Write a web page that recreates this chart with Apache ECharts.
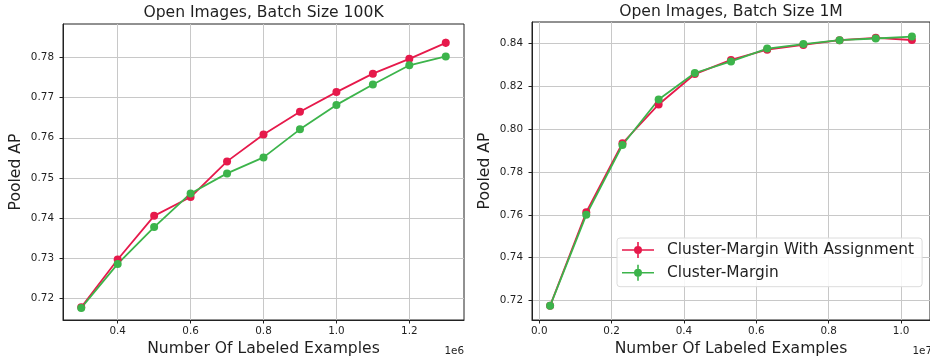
<!DOCTYPE html>
<html><head><meta charset="utf-8">
<script src="https://cdn.jsdelivr.net/npm/echarts@6/dist/echarts.min.js"></script>
<style>html,body{margin:0;padding:0;background:#fff}#c{width:930px;height:362px}</style>
</head><body><div id="c"></div>
<script>
// ---- data ----
const seriesNames = ['Cluster-Margin With Assignment', 'Cluster-Margin'];
const titles = ['Open Images, Batch Size 100K', 'Open Images, Batch Size 1M'];
const xName = 'Number Of Labeled Examples';
const yName = 'Pooled AP';
const offsetLabels = ['1e6', '1e7'];

const labeled100K = [300000, 400000, 500000, 600000, 700000, 800000, 900000, 1000000, 1100000, 1200000, 1300000];
const assign100K = [0.7177, 0.7296, 0.7405, 0.7452, 0.7541, 0.7608, 0.7665, 0.7714, 0.7760, 0.7797, 0.7837];
const assign100KErr = [0.0002, 0.0003, 0.0003, 0.0003, 0.0003, 0.0003, 0.0003, 0.0005, 0.0003, 0.0003, 0.0010];
const margin100K = [0.7175, 0.7285, 0.7377, 0.7461, 0.7511, 0.7551, 0.7621, 0.7682, 0.7733, 0.7781, 0.7803];
const margin100KErr = [0.0002, 0.0003, 0.0003, 0.0007, 0.0003, 0.0004, 0.0003, 0.0003, 0.0003, 0.0003, 0.0003];

const labeled1M = [300000, 1300000, 2300000, 3300000, 4300000, 5300000, 6300000, 7300000, 8300000, 9300000, 10300000];
const assign1M = [0.7175, 0.7612, 0.7934, 0.8115, 0.8257, 0.8323, 0.8371, 0.8393, 0.8415, 0.8426, 0.8416];
const assign1MErr = [0.0005, 0.0006, 0.0006, 0.0006, 0.0005, 0.0005, 0.0005, 0.0005, 0.0005, 0.0005, 0.0005];
const margin1M = [0.7175, 0.7600, 0.7926, 0.8138, 0.8262, 0.8316, 0.8376, 0.8397, 0.8415, 0.8423, 0.8432];
const margin1MErr = [0.0005, 0.0006, 0.0006, 0.0006, 0.0005, 0.0005, 0.0005, 0.0005, 0.0005, 0.0005, 0.0005];

const xTicks100K = [400000, 600000, 800000, 1000000, 1200000];
const yTicks100K = [0.72, 0.73, 0.74, 0.75, 0.76, 0.77, 0.78];
const xTicks1M = [0, 2000000, 4000000, 6000000, 8000000, 10000000];
const yTicks1M = [0.72, 0.74, 0.76, 0.78, 0.80, 0.82, 0.84];

// ---- style ----
const colors = ['#e6194b', '#3cb44b'];
const FONT = '"DejaVu Sans", sans-serif';
const TXT = '#1f1f1f';
const grids = [
  {left: 63, top: 24, width: 401, height: 299},
  {left: 532, top: 22, width: 400, height: 300}
];

function xAxisCfg(gi, min, max, ticks, div) {
  return {
    type: 'value', gridIndex: gi, min: min, max: max,
    name: xName, nameLocation: 'middle', nameGap: 21,
    nameTextStyle: {fontFamily: FONT, fontSize: 15.6, color: TXT},
    axisLine: {show: true, onZero: false, lineStyle: {color: '#222', width: 1}},
    axisTick: {show: true, inside: false, length: 3.5, customValues: ticks, lineStyle: {color: '#222', width: 1}},
    axisLabel: {customValues: ticks, margin: 6, fontFamily: FONT, fontSize: 10.4, color: TXT,
      formatter: v => (v / div).toFixed(1)},
    splitLine: {show: true, lineStyle: {color: '#c8c8c8', width: 1}}
  };
}
function yAxisCfg(gi, min, max, ticks) {
  return {
    type: 'value', gridIndex: gi, min: min, max: max,
    name: yName, nameLocation: 'middle', nameGap: 39, nameRotate: 90,
    nameTextStyle: {fontFamily: FONT, fontSize: 15.6, color: TXT},
    axisLine: {show: true, onZero: false, lineStyle: {color: '#222', width: 1}},
    axisTick: {show: true, inside: false, length: 3.5, customValues: ticks, lineStyle: {color: '#222', width: 1}},
    axisLabel: {customValues: ticks, margin: 9, fontFamily: FONT, fontSize: 10.4, color: TXT,
      formatter: v => v.toFixed(2)},
    splitLine: {show: true, lineStyle: {color: '#c8c8c8', width: 1}}
  };
}

function zip(xs, ys) { return xs.map((x, i) => [x, ys[i]]); }
function zip3(xs, ys, es) { return xs.map((x, i) => [x, ys[i], es[i]]); }

function errRender(params, api) {
  const x = api.value(0), y = api.value(1), e = api.value(2);
  const p1 = api.coord([x, y - e]);
  const p2 = api.coord([x, y + e]);
  return {type: 'line', shape: {x1: p1[0], y1: p1[1], x2: p2[0], y2: p2[1]},
    style: {stroke: api.visual('color'), lineWidth: 1.8}};
}

function lineSeries(name, gi, xs, ys, color) {
  return {type: 'line', name: name, xAxisIndex: gi, yAxisIndex: gi, data: zip(xs, ys),
    symbol: 'circle', symbolSize: 8, showSymbol: true,
    lineStyle: {color: color, width: 1.8}, itemStyle: {color: color}, emphasis: {disabled: true},
    animation: false};
}
function errSeries(name, gi, xs, ys, es, color) {
  return {type: 'custom', name: name, xAxisIndex: gi, yAxisIndex: gi, data: zip3(xs, ys, es),
    renderItem: errRender, itemStyle: {color: color}, animation: false, silent: true,
    encode: {x: 0, y: 1}};
}

const legendIcon = 'path://M0,7.2H32V8.8H0Z M15.2,0H16.8V16H15.2Z M12,8A4,4 0 1,1 20,8A4,4 0 1,1 12,8Z';

const chart = echarts.init(document.getElementById('c'), null, {renderer: 'canvas'});
chart.setOption({
  animation: false,
  backgroundColor: '#fff',
  textStyle: {fontFamily: FONT},
  grid: grids.map(g => Object.assign({show: true, borderColor: '#222', borderWidth: 1, backgroundColor: 'transparent', containLabel: false}, g)),
  xAxis: [
    xAxisCfg(0, 250000, 1350000, xTicks100K, 1e6),
    xAxisCfg(1, -200000, 10800000, xTicks1M, 1e7)
  ],
  yAxis: [
    yAxisCfg(0, 0.7145, 0.7884, yTicks100K),
    yAxisCfg(1, 0.7109, 0.8500, yTicks1M)
  ],
  legend: {
    orient: 'vertical', left: 617, top: 238,
    data: seriesNames.map(n => ({name: n, icon: legendIcon})),
    itemWidth: 32, itemHeight: 16, itemGap: 6.7,
    padding: [4, 8, 6, 5],
    backgroundColor: 'rgba(255,255,255,0.85)', borderColor: '#dcdcdc', borderWidth: 1, borderRadius: 3,
    textStyle: {fontFamily: FONT, fontSize: 15.4, color: TXT, padding: [0, 0, 0, 8]},
    selectedMode: false
  },
  graphic: [
    {type: 'text', x: 263.5, y: 13, style: {text: titles[0], font: '15.6px "DejaVu Sans"', fill: TXT, textAlign: 'center', textVerticalAlign: 'middle'}},
    {type: 'text', x: 731, y: 12, style: {text: titles[1], font: '15.6px "DejaVu Sans"', fill: TXT, textAlign: 'center', textVerticalAlign: 'middle'}},
    {type: 'text', x: 464, y: 351, style: {text: offsetLabels[0], font: '10.4px "DejaVu Sans"', fill: TXT, textAlign: 'right', textVerticalAlign: 'middle'}},
    {type: 'text', x: 932, y: 351, style: {text: offsetLabels[1], font: '10.4px "DejaVu Sans"', fill: TXT, textAlign: 'right', textVerticalAlign: 'middle'}}
  ],
  series: [
    lineSeries(seriesNames[0], 0, labeled100K, assign100K, colors[0]),
    errSeries(seriesNames[0], 0, labeled100K, assign100K, assign100KErr, colors[0]),
    lineSeries(seriesNames[1], 0, labeled100K, margin100K, colors[1]),
    errSeries(seriesNames[1], 0, labeled100K, margin100K, margin100KErr, colors[1]),
    lineSeries(seriesNames[0], 1, labeled1M, assign1M, colors[0]),
    errSeries(seriesNames[0], 1, labeled1M, assign1M, assign1MErr, colors[0]),
    lineSeries(seriesNames[1], 1, labeled1M, margin1M, colors[1]),
    errSeries(seriesNames[1], 1, labeled1M, margin1M, margin1MErr, colors[1])
  ]
});
</script></body></html>
